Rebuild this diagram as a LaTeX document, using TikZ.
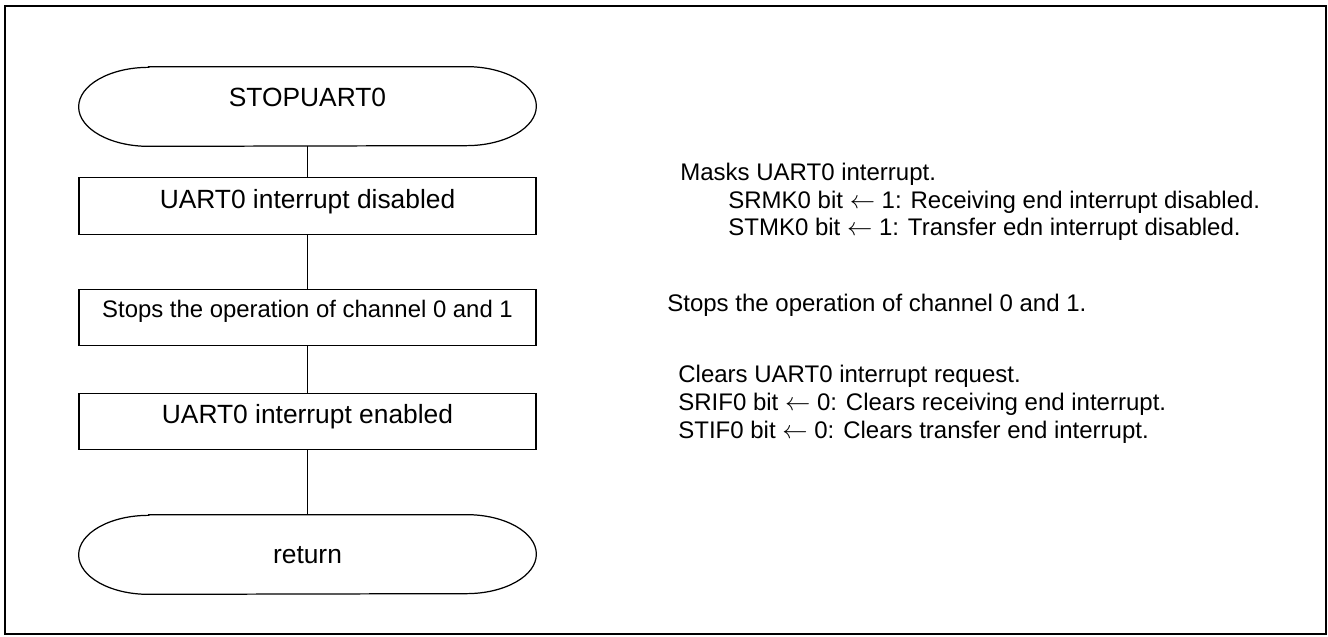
\documentclass[tikz,border=0pt]{standalone}
\usepackage{fontspec}
\setmainfont{Liberation Sans}

\tikzset{
  procbox/.style={draw, line width=0.7pt, minimum width=9.14cm, minimum height=1.13cm, inner sep=0pt, font=\fontsize{15}{18}\selectfont, text depth=0.12cm},
  termbox/.style={minimum width=9.14cm, minimum height=1.58cm, inner sep=0pt, font=\fontsize{15}{18}\selectfont, text depth=0.12cm},
  note/.style={anchor=base west, inner sep=0pt, font=\fontsize{13.66}{16}\selectfont},
  flowline/.style={line width=0.7pt}
}

\begin{document}
\begin{tikzpicture}
\useasboundingbox (0,0) rectangle (26.56,-12.74);
\draw[line width=1.2pt] (0.1,-0.12) rectangle (26.52,-12.68);

% flow chart
\node[termbox, text height=0.14cm] (start) at (6.15,-2.13) {STOPUART0};
\node[procbox, text height=0.24cm] (disable) at (6.15,-4.12) {UART0 interrupt disabled};
\node[procbox, text height=0.14cm, font=\fontsize{13.6}{16}\selectfont] (stopch) at (6.15,-6.35) {Stops the operation of channel 0 and 1};
\node[procbox, text height=0.22cm] (enable) at (6.15,-8.43) {UART0 interrupt enabled};
\node[termbox, text height=0.46cm] (ret) at (6.15,-11.09) {return};

\foreach \t in {start,ret}
  \draw[flowline] ([xshift=1.4cm]\t.north west) -- ([xshift=-1.4cm]\t.north east)
    arc[start angle=90, end angle=-90, x radius=1.4cm, y radius=0.79cm]
    -- ([xshift=1.4cm]\t.south west)
    arc[start angle=270, end angle=90, x radius=1.4cm, y radius=0.79cm] -- cycle;

\draw[flowline] (start) -- (disable) -- (stopch) -- (enable) -- (ret);

% comments
\node[note] (maskhead) at (13.6,-3.62) {Masks UART0 interrupt.};
\node[note] (srmk) at (14.56,-4.17) {SRMK0 bit $\leftarrow$ 1: Receiving end interrupt disabled.};
\node[note] (stmk) at (14.56,-4.72) {STMK0 bit $\leftarrow$ 1: Transfer edn interrupt disabled.};
\node[note] (stopnote) at (13.34,-6.24) {Stops the operation of channel 0 and 1.};
\node[note] (clearhead) at (13.56,-7.66) {Clears UART0 interrupt request.};
\node[note] (srif) at (13.56,-8.22) {SRIF0 bit $\leftarrow$ 0: Clears receiving end interrupt.};
\node[note] (stif) at (13.56,-8.78) {STIF0 bit $\leftarrow$ 0: Clears transfer end interrupt.};
\end{tikzpicture}
\end{document}
